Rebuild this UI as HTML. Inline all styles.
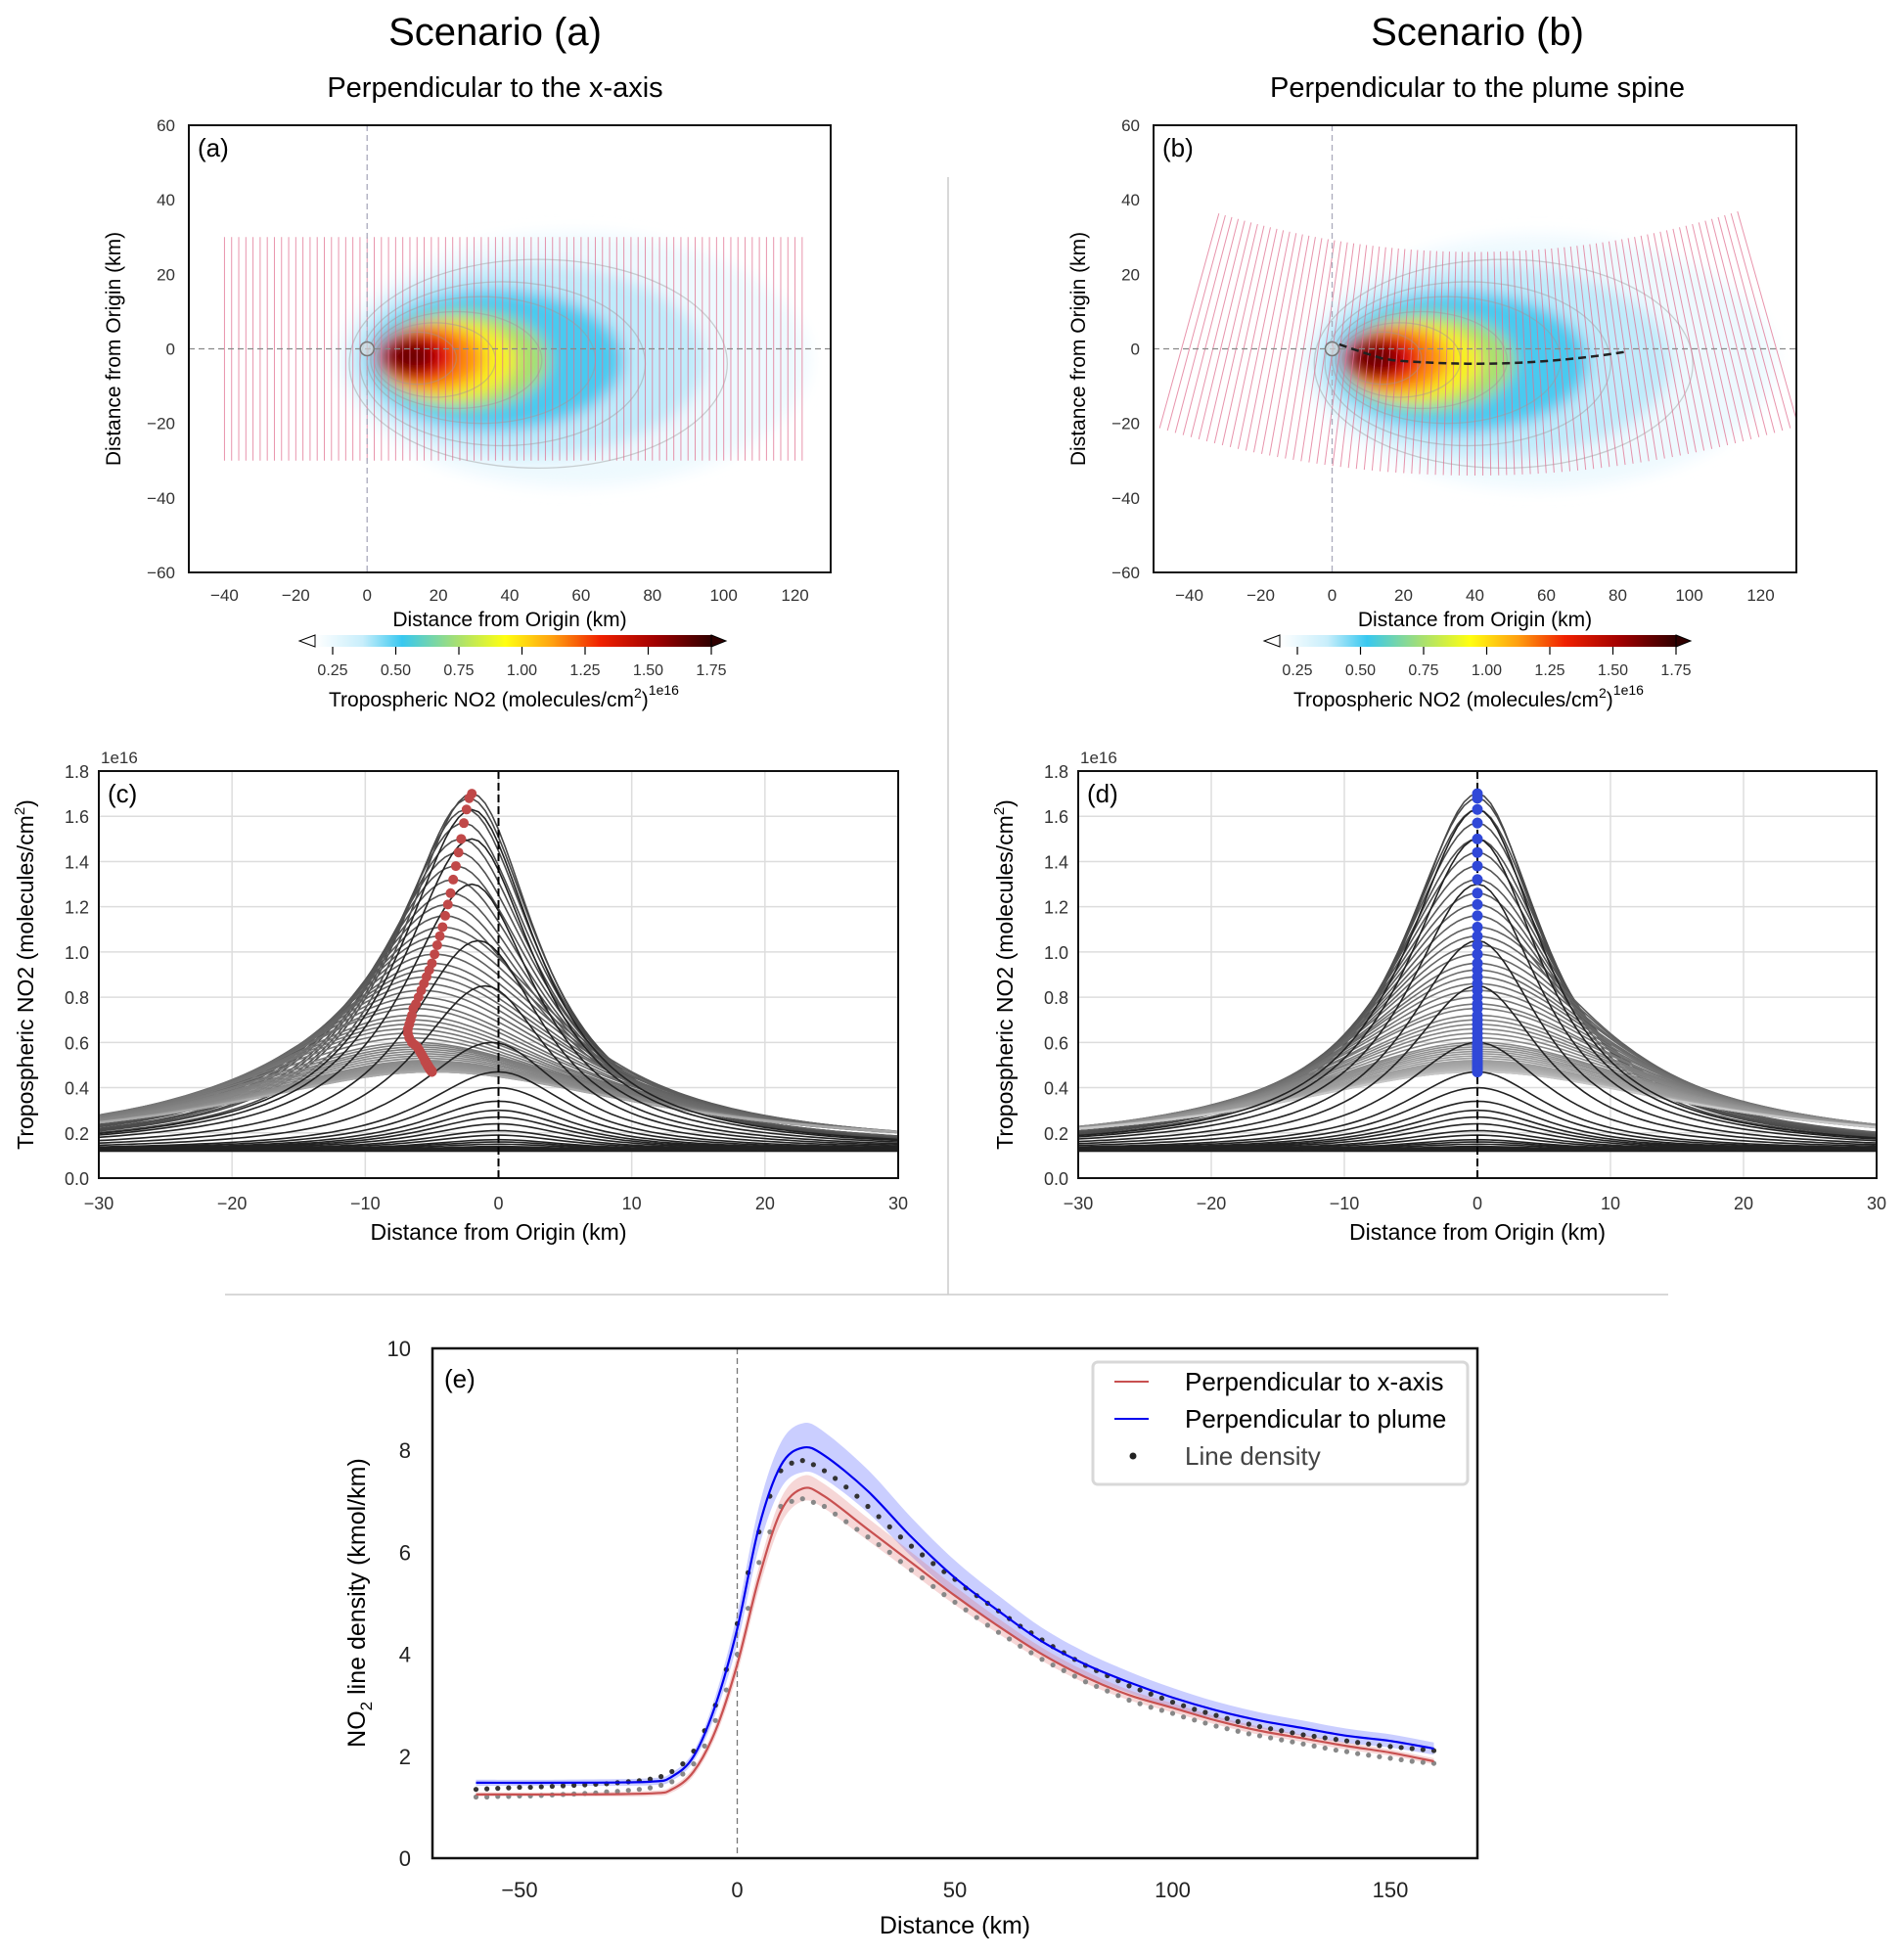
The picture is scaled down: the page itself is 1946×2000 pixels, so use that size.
<!DOCTYPE html>
<html><head><meta charset="utf-8"><style>
body{margin:0;background:#fff}
svg{display:block;font-family:"Liberation Sans",sans-serif}
</style></head><body>
<svg id="fig" width="1946" height="2000" viewBox="0 0 1946 2000" xmlns="http://www.w3.org/2000/svg">
<defs>
<filter id="blur" x="-30%" y="-30%" width="160%" height="160%"><feGaussianBlur stdDeviation="8"/></filter>
<linearGradient id="cmap" x1="0" x2="1" y1="0" y2="0">
<stop offset="0" stop-color="#ffffff"/><stop offset="0.12" stop-color="#c8eefb"/><stop offset="0.22" stop-color="#38c8f0"/>
<stop offset="0.36" stop-color="#a8e070"/><stop offset="0.48" stop-color="#ffff10"/><stop offset="0.6" stop-color="#ffa010"/>
<stop offset="0.72" stop-color="#f02000"/><stop offset="0.86" stop-color="#a00000"/><stop offset="1" stop-color="#300000"/>
</linearGradient>
<clipPath id="clipA"><rect x="193" y="128" width="656" height="457"/></clipPath>
<clipPath id="clipB"><rect x="1179" y="128" width="657" height="457"/></clipPath>
<clipPath id="clipC"><rect x="101" y="788" width="817" height="416"/></clipPath>
<clipPath id="clipD"><rect x="1102" y="788" width="816" height="416"/></clipPath>
</defs>
<text x="506" y="46" font-size="40" text-anchor="middle">Scenario (a)</text>
<text x="506" y="99" font-size="29" text-anchor="middle">Perpendicular to the x-axis</text>
<text x="1510" y="46" font-size="40" text-anchor="middle">Scenario (b)</text>
<text x="1510" y="99" font-size="29" text-anchor="middle">Perpendicular to the plume spine</text>
<line x1="969" y1="181" x2="969" y2="1323" stroke="#ccc" stroke-width="1.5"/>
<line x1="230" y1="1323" x2="1705" y2="1323" stroke="#ccc" stroke-width="1.5"/>
<g id="layer"></g>
</svg>
<script>
// ---- panel e data ----
const eX=[-60,-40,-20,-15,-10,-5,0,5,10,15,20,30,40,50,60,70,80,90,100,110,120,130,140,150,160];
const eRed=[1.25,1.25,1.27,1.35,1.7,2.5,3.8,5.5,6.8,7.25,7.1,6.45,5.8,5.15,4.55,4.0,3.55,3.2,2.95,2.7,2.5,2.35,2.2,2.07,1.9];
const eBlue=[1.48,1.48,1.5,1.6,2.0,3.0,4.5,6.5,7.7,8.05,7.9,7.2,6.3,5.5,4.85,4.25,3.8,3.45,3.15,2.9,2.7,2.55,2.4,2.3,2.15];
const eRedBand=[0.04,0.04,0.05,0.06,0.08,0.12,0.18,0.22,0.25,0.25,0.24,0.22,0.2,0.18,0.15,0.13,0.12,0.1,0.09,0.08,0.08,0.07,0.07,0.06,0.06];
const eBlueBand=[0.06,0.06,0.07,0.08,0.1,0.18,0.3,0.4,0.45,0.48,0.46,0.42,0.38,0.34,0.3,0.27,0.24,0.21,0.19,0.17,0.16,0.15,0.14,0.13,0.12];
const dotX=[-60,-57.5,-55,-52.5,-50,-47.5,-45,-42.5,-40,-37.5,-35,-32.5,-30,-27.5,-25,-22.5,-20,-17.5,-15,-12.5,-10,-7.5,-5,-2.5,0,2.5,5,7.5,10,12.5,15,17.5,20,22.5,25,27.5,30,32.5,35,37.5,40,42.5,45,47.5,50,52.5,55,57.5,60,62.5,65,67.5,70,72.5,75,77.5,80,82.5,85,87.5,90,92.5,95,97.5,100,102.5,105,107.5,110,112.5,115,117.5,120,122.5,125,127.5,130,132.5,135,137.5,140,142.5,145,147.5,150,152.5,155,157.5,160];
const dotDark=[1.35,1.36,1.37,1.38,1.39,1.39,1.4,1.41,1.42,1.43,1.44,1.45,1.46,1.48,1.5,1.52,1.55,1.6,1.7,1.85,2.1,2.5,3.0,3.7,4.6,5.6,6.4,7.1,7.6,7.75,7.8,7.72,
7.6,7.45,7.28,7.1,6.9,6.7,6.5,6.3,6.12,5.95,5.78,5.62,5.47,5.3,5.15,5.0,4.85,4.7,4.55,4.42,4.28,4.15,4.03,3.9,3.78,3.68,3.58,3.48,3.38,3.3,3.22,3.14,3.06,2.99,2.92,2.86,2.8,2.74,2.68,2.63,2.58,2.54,2.5,2.46,2.42,2.39,2.36,2.33,2.3,2.27,2.24,2.21,2.19,2.17,2.15,2.13,2.11];
const dotGray=[1.2,1.2,1.21,1.21,1.22,1.22,1.23,1.24,1.25,1.26,1.27,1.28,1.3,1.31,1.33,1.35,1.38,1.43,1.5,1.65,1.85,2.2,2.7,3.3,4.0,4.9,5.8,6.4,6.9,7.0,7.05,6.98,
6.9,6.75,6.6,6.45,6.3,6.15,6.0,5.82,5.65,5.5,5.33,5.17,5.02,4.87,4.72,4.57,4.43,4.3,4.16,4.03,3.9,3.79,3.68,3.57,3.46,3.37,3.28,3.19,3.1,3.03,2.96,2.9,2.84,2.77,2.71,2.65,2.59,2.54,2.49,2.44,2.4,2.36,2.32,2.28,2.24,2.2,2.16,2.12,2.09,2.05,2.02,1.99,1.96,1.93,1.9,1.88,1.86];
const eXTicks=[-50,0,50,100,150];
const eYTicks=[0,2,4,6,8,10];
// ---- panels c/d data (one entry per transect, 2 km spacing from -40 to 122 km) ----
const trPeak=[0.12,0.12,0.12,0.125,0.125,0.13,0.13,0.135,0.14,0.15,0.16,0.17,0.19,0.21,0.24,0.27,
0.3,0.34,0.4,0.47,0.6,
0.85,1.05,1.3,1.5,1.63,1.7,1.68,
1.63,1.57,1.5,1.44,1.38,1.32,1.26,1.21,1.16,1.11,1.07,1.03,0.99,
0.95,0.92,0.89,0.86,0.83,0.8,0.77,0.75,0.72,0.7,0.68,0.66,0.64,0.62,0.6,
0.59,0.58,0.57,0.56,0.55,0.54,0.53,0.52,0.515,0.51,0.505,0.5,0.497,0.494,0.49,0.487,0.484,0.481,0.478,0.476,0.474,0.472,0.47,0.47,0.47,0.47];
const trWidth=[7,7,7,7,7,7,7,7,7,7,7,7,7,7,7,7,
7,7,7,7,7,
6.5,6.5,6.5,6.5,6.5,6.5,6.8,
7,7.3,7.6,8,8.3,8.6,9,9.3,9.6,10,10.3,10.6,11,
11.3,11.6,12,12.3,12.6,13,13.3,13.6,14,14.3,14.6,15,15.3,15.6,16,
16.2,16.3,16.5,16.6,16.8,16.9,17,17.1,17.2,17.3,17.4,17.5,17.6,17.7,17.8,17.9,18,18.1,18.2,18.3,18.4,18.5,18.6,18.7,18.8,19];
const trCenterC=[0,0,0,0,0,0,0,0,0,0,0,0,0,0,0,0,
0,0,0,0,-0.5,
-1,-1.5,-2,-2,-2,-2,-2.2,
-2.4,-2.6,-2.8,-3,-3.2,-3.4,-3.6,-3.8,-4,-4.2,-4.4,-4.6,-4.8,
-5,-5.2,-5.4,-5.6,-5.8,-6,-6.2,-6.4,-6.5,-6.6,-6.7,-6.8,-6.8,-6.7,-6.5,
-6.3,-6.1,-6,-5.9,-5.8,-5.7,-5.6,-5.5,-5.5,-5.4,-5.4,-5.3,-5.3,-5.3,-5.2,-5.2,-5.2,-5.1,-5.1,-5.1,-5,-5,-5,-5,-5,-5];
const trBase=0.12;
const cXTicks=[-30,-20,-10,0,10,20,30];
const cYTicks=[0,0.2,0.4,0.6,0.8,1.0,1.2,1.4,1.6,1.8];
// ---- panels a/b ----
const mapXTicks=[-40,-20,0,20,40,60,80,100,120];
const mapYTicks=[-60,-40,-20,0,20,40,60];
const cbTicks=[0.25,0.5,0.75,1.0,1.25,1.5,1.75];
const plumeLayers=[[58,-3,66,34,'#eef9fe'],[45,-3,50,26,'#c0ebfb'],[36,-3,36,19,'#48caf0'],[27,-3,24,13,'#a8e070'],[23,-3,19,10.5,'#f8f020'],[18,-2.5,14.5,9,'#ff9010'],[14,-2,11.5,7.2,'#e81010'],[12,-2,7.5,5,'#700000']];
const contourLayers=[[48,-4,53,28],[38,-4,40,22],[32,-3,32,17],[25,-3,24,13],[19,-3,17,10],[14,-2.5,11,7]];

const NS='http://www.w3.org/2000/svg';
const layer=document.getElementById('layer');
function mk(tag,attrs,parent){const e=document.createElementNS(NS,tag);for(const k in attrs)e.setAttribute(k,attrs[k]);(parent||layer).appendChild(e);return e;}
function txt(x,y,s,size,anchor,parent,extra){const t=mk('text',Object.assign({x:x,y:y,'font-size':size,'text-anchor':anchor||'middle'},extra||{}),parent);t.textContent=s;return t;}
function lin(d0,d1,r0,r1){return v=>r0+(v-d0)/(d1-d0)*(r1-r0);}
function smooth(pts){let d='M'+pts[0][0]+','+pts[0][1];for(let i=0;i<pts.length-1;i++){const p0=pts[Math.max(0,i-1)],p1=pts[i],p2=pts[i+1],p3=pts[Math.min(pts.length-1,i+2)];
const c1=[p1[0]+(p2[0]-p0[0])/6,p1[1]+(p2[1]-p0[1])/6],c2=[p2[0]-(p3[0]-p1[0])/6,p2[1]-(p3[1]-p1[1])/6];d+=' C'+c1[0]+','+c1[1]+' '+c2[0]+','+c2[1]+' '+p2[0]+','+p2[1];}return d;}

// ===== map panels =====
function mapPanel(L,R,T,B,clip,tag,scen){
 const g=mk('g',{});
 
 
 const sx=lin(-50,130,L,R), sy=lin(-60,60,B,T);
 const cg=mk('g',{'clip-path':'url(#'+clip+')'},g);
 const pg=mk('g',{filter:'url(#blur)'},cg);
 
 
 plumeLayers.forEach(p=>{mk('ellipse',{cx:sx(p[0]),cy:sy(p[1]+(scen?-0.5:0)),rx:sx(p[2])-sx(0),ry:sy(0)-sy(p[3]),fill:p[4]},pg);});
 contourLayers.forEach(p=>{const e=mk('ellipse',{cx:sx(p[0]),cy:sy(p[1]),rx:sx(p[2])-sx(0),ry:sy(0)-sy(p[3]),fill:'none',stroke:'#999','stroke-opacity':0.45,'stroke-width':1.3},cg);
  
  });
 const tg=mk('g',{stroke:'#e07090','stroke-width':1,'stroke-opacity':0.75},cg);
 
 
 for(let s=-40;s<=122;s+=2){
  if(!scen){mk('line',{x1:sx(s),x2:sx(s),y1:sy(30),y2:sy(-30)},tg);}
  else{const a=0.0018,yc=a*(s-40)*(s-40)-4,sl=2*a*(s-40),n=Math.hypot(sl,1),nx=-sl/n,ny=1/n;
   mk('line',{x1:sx(s+30*nx),y1:sy(yc+30*ny),x2:sx(s-30*nx),y2:sy(yc-30*ny)},tg);}
 }
 mk('line',{x1:L,x2:R,y1:sy(0),y2:sy(0),stroke:'#888','stroke-dasharray':'6,4','stroke-width':1.3},cg);
 mk('line',{x1:sx(0),x2:sx(0),y1:T,y2:B,stroke:'#aab','stroke-dasharray':'6,4','stroke-width':1.3},cg);
 if(scen){const pts=[];for(let s=2;s<=83;s+=3){pts.push(sx(s)+','+sy(0.0018*(s-40)*(s-40)-4+(s<15?(15-s)*0.2:0)));}
  const sp=mk('polyline',{points:pts.join(' '),fill:'none',stroke:'#222','stroke-width':2.5,'stroke-dasharray':'8,5'},cg);
  
  }
 const src=mk('circle',{cx:sx(0),cy:sy(0),r:7,fill:'#ddd','fill-opacity':0.6,stroke:'#777','stroke-width':1.5},g);
 
 
 mk('rect',{x:L,y:T,width:R-L,height:B-T,fill:'none',stroke:'#111','stroke-width':2},g);
 txt(L+9,T+32,'('+tag+')',26,'start',g);
 mapXTicks.forEach(v=>{txt(sx(v),B+29,v<0?'\u2212'+(-v):''+v,17,'middle',g,{fill:'#333'});});
 mapYTicks.forEach(v=>{txt(L-14,sy(v)+6,v<0?'\u2212'+(-v):''+v,17,'end',g,{fill:'#333'});});
 const xl=txt((L+R)/2,B+55,'Distance from Origin (km)',21,'middle',g);
 
 
 const yx=L-70,ycn=(T+B)/2;
 const yl=txt(yx,ycn,'Distance from Origin (km)',21,'middle',g,{transform:'rotate(-90 '+yx+' '+ycn+')'});
 
 
 // colorbar
 const off=L-193, cb=mk('g',{},g);
 
 
 const cx=lin(0.25,1.75,340+off,727+off);
 mk('rect',{x:322+off,y:649,width:405,height:12,fill:'url(#cmap)'},cb);
 mk('polygon',{points:(322+off)+',649 '+(306+off)+',655 '+(322+off)+',661',fill:'#fff',stroke:'#000','stroke-width':1},cb);
 mk('polygon',{points:(727+off)+',649 '+(742+off)+',655 '+(727+off)+',661',fill:'#300000',stroke:'#000','stroke-width':1},cb);
 cbTicks.forEach(v=>{mk('line',{x1:cx(v),x2:cx(v),y1:661,y2:669,stroke:'#000','stroke-width':1.2},cb);txt(cx(v),690,v.toFixed(2),16,'middle',cb,{fill:'#333'});});
 const cl=txt(336+off,722,'',21,'start',cb);
 cl.innerHTML='Tropospheric NO2 (molecules/cm<tspan dy="-9" font-size="14">2</tspan><tspan dy="9">)</tspan><tspan dy="-12" font-size="14">1e16</tspan>';
}
mapPanel(193,849,128,585,'clipA','a',false);
mapPanel(1179,1836,128,585,'clipB','b',true);

// ===== profile panels =====
function profPanel(L,R,T,B,clip,tag,useCenter){
 const g=mk('g',{});
 
 
 const sx=lin(-30,30,L,R), sy=lin(0,1.8,B,T);
 cXTicks.forEach(v=>mk('line',{x1:sx(v),x2:sx(v),y1:T,y2:B,stroke:'#ddd','stroke-width':1.5},g));
 cYTicks.forEach(v=>mk('line',{x1:L,x2:R,y1:sy(v),y2:sy(v),stroke:'#ddd','stroke-width':1.5},g));
 const cg=mk('g',{'clip-path':'url(#'+clip+')',fill:'none'},g);
 const n=trPeak.length; let imax=0; trPeak.forEach((p,i)=>{if(p>trPeak[imax])imax=i;});
 const order=[];for(let i=imax;i<n;i++)order.push(i);for(let i=0;i<imax;i++)order.push(i);
 order.forEach(i=>{
  const c=useCenter?trCenterC[i]:0,w=trWidth[i],p=trPeak[i],pts=[];
  for(let x=-31;x<=31;x+=0.5){const dx=x-c,ww=dx<0?w:w*(i>imax+10?1.05:0.92);pts.push(sx(x).toFixed(1)+','+sy(trBase+(p-trBase)/(1+(dx/ww)*(dx/ww))).toFixed(1));}
  let col='#222';
  if(i>=imax){const f=(i-imax)/(n-1-imax);const gv=Math.round(useCenter?(70+f*100):(70+f*130));col='rgb('+gv+','+gv+','+gv+')';}
  const pl=mk('polyline',{points:pts.join(' '),stroke:col,'stroke-width':1.6},cg);
  
  
 });
 mk('line',{x1:sx(0),x2:sx(0),y1:T,y2:B,stroke:'#000','stroke-width':2,'stroke-dasharray':'8,4'},g);
 const mg=mk('g',{},g);
 
 
 for(let i=imax;i<n;i++){const c=useCenter?trCenterC[i]:0;mk('circle',{cx:sx(c),cy:sy(trPeak[i]),r:useCenter?5:5.5,fill:useCenter?'#c04848':'#3048d8'},mg);}
 mk('rect',{x:L,y:T,width:R-L,height:B-T,fill:'none',stroke:'#111','stroke-width':2},g);
 txt(L+9,T+32,'('+tag+')',26,'start',g);
 txt(L+2,T-8,'1e16',17,'start',g,{fill:'#333'});
 cXTicks.forEach(v=>txt(sx(v),B+32,v<0?'\u2212'+(-v):''+v,18,'middle',g,{fill:'#333'}));
 cYTicks.forEach(v=>txt(L-10,sy(v)+7,v.toFixed(1),18,'end',g,{fill:'#333'}));
 const xl=txt((L+R)/2,B+63,'Distance from Origin (km)',23,'middle',g);
 
 
 const yx=L-67,ycn=(T+B)/2;
 const yl=txt(yx,ycn,'',23,'middle',g,{transform:'rotate(-90 '+yx+' '+ycn+')'});
 yl.innerHTML='Tropospheric NO2 (molecules/cm<tspan dy="-9" font-size="15">2</tspan><tspan dy="9">)</tspan>';
 
 
}
profPanel(101,918,788,1204,'clipC','c',true);
profPanel(1102,1918,788,1204,'clipD','d',false);

// ===== panel e =====
(function(){
 const L=442,R=1510,T=1378,B=1899;
 const g=mk('g',{});
 
 
 const sx=lin(-70,170,L,R), sy=lin(0,10,B,T);
 function band(vals,bw,color,name){const up=eX.map((x,i)=>[sx(x),sy(vals[i]+bw[i])]),lo=eX.map((x,i)=>[sx(x),sy(vals[i]-bw[i])]).reverse();
  const sl=smooth(lo);
  const d=smooth(up)+' L'+lo[0][0]+','+lo[0][1]+sl.slice(sl.indexOf(' C'))+' Z';
  const p=mk('path',{d:d,fill:color,'fill-opacity':0.28,stroke:'none'},g);
  
  }
 band(eBlue,eBlueBand,'#4050ff','blue-uncertainty-band');
 band(eRed,eRedBand,'#e07070','red-uncertainty-band');
 mk('line',{x1:sx(0),x2:sx(0),y1:T,y2:B,stroke:'#777','stroke-width':1.3,'stroke-dasharray':'6,4'},g);
 const dg=mk('g',{},g);
 
 
 dotX.forEach((x,i)=>{mk('circle',{cx:sx(x),cy:sy(dotGray[i]),r:2.6,fill:'#888'},dg);mk('circle',{cx:sx(x),cy:sy(dotDark[i]),r:2.6,fill:'#333'},dg);});
 const rl=mk('path',{d:smooth(eX.map((x,i)=>[sx(x),sy(eRed[i])])),fill:'none',stroke:'#c85050','stroke-width':2.2},g);
 
 
 const bl=mk('path',{d:smooth(eX.map((x,i)=>[sx(x),sy(eBlue[i])])),fill:'none',stroke:'#0000ee','stroke-width':2.2},g);
 
 
 mk('rect',{x:L,y:T,width:R-L,height:B-T,fill:'none',stroke:'#111','stroke-width':2.5},g);
 txt(L+12,T+40,'(e)',26,'start',g);
 eXTicks.forEach(v=>txt(sx(v),B+40,v<0?'\u2212'+(-v):''+v,22,'middle',g,{fill:'#222'}));
 eYTicks.forEach(v=>txt(L-22,sy(v)+8,''+v,22,'end',g,{fill:'#222'}));
 const xl=txt((L+R)/2,1976,'Distance (km)',25,'middle',g);
 
 
 const yx=373,ycn=1638;
 const yl=txt(yx,ycn,'',25,'middle',g,{transform:'rotate(-90 '+yx+' '+ycn+')'});
 yl.innerHTML='NO<tspan dy="7" font-size="17">2</tspan><tspan dy="-7"> line density (kmol/km)</tspan>';
 
 
 const lg=mk('g',{},g);
 
 
 mk('rect',{x:1117,y:1392,width:383,height:125,rx:5,fill:'#fff',stroke:'#d8d8d8','stroke-width':3},lg);
 mk('line',{x1:1139,x2:1174,y1:1412,y2:1412,stroke:'#c85050','stroke-width':2},lg);
 mk('line',{x1:1139,x2:1174,y1:1450,y2:1450,stroke:'#0000ee','stroke-width':2},lg);
 mk('circle',{cx:1158,cy:1488,r:3.5,fill:'#222'},lg);
 txt(1211,1421,'Perpendicular to x-axis',26,'start',lg);
 txt(1211,1459,'Perpendicular to plume',26,'start',lg);
 txt(1211,1497,'Line density',26,'start',lg,{fill:'#444'});
})();
</script>
</body></html>
